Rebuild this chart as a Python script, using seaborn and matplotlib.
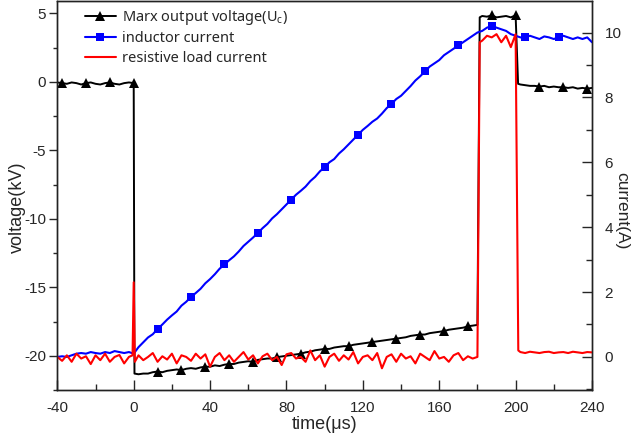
import numpy as np
import pandas as pd
import matplotlib
matplotlib.use("Agg")
import matplotlib.pyplot as plt
import seaborn as sns

# Marx output voltage (kV), left axis
black_t = np.concatenate([np.arange(-40, 0.1, 2.5), [0.4], np.arange(2.5, 180.1, 2.5),
                          [181.2], np.arange(182.5, 200.1, 2.5), [201.3], np.arange(202.5, 240.1, 2.5)])
black_pre = [-0.05, -0.1, -0.15, -0.05, -0.1, -0.2, -0.1, -0.05, -0.15, -0.2, -0.1, -0.05,
             -0.15, -0.2, -0.1, -0.05, -0.1]
black_ramp = [-21.35, -21.3, -21.3, -21.2, -21.15, -21.2, -21.1, -21.05,
              -21.0, -21.05, -20.95, -20.9, -20.95, -20.85, -20.8, -20.8,
              -20.7, -20.75, -20.65, -20.6, -20.6, -20.5, -20.45, -20.4,
              -20.45, -20.3, -20.25, -20.2, -20.2, -20.1, -20.05, -20.0,
              -19.95, -19.9, -19.85, -19.75, -19.7, -19.6, -19.55, -19.5,
              -19.5, -19.4, -19.35, -19.3, -19.3, -19.2, -19.15, -19.1,
              -19.05, -19.0, -18.95, -18.9, -18.85, -18.8, -18.75, -18.7,
              -18.65, -18.55, -18.5, -18.45, -18.45, -18.35, -18.3, -18.25,
              -18.2, -18.1, -18.05, -18.0, -17.95, -17.85, -17.8, -17.75]
black_top = [4.8, 4.75, 4.85, 4.7, 4.75, 4.8, 4.7, 4.85]
black_post = [-0.2, -0.25, -0.3, -0.3, -0.35, -0.3, -0.4, -0.35, -0.4, -0.4, -0.45, -0.4,
              -0.5, -0.45, -0.5, -0.45]
black_v = black_pre + [-21.3] + black_ramp + [4.7] + black_top + [-0.15] + black_post
black_marks = np.arange(-37.5, 240, 12.5)

# inductor current (A), right axis
blue_t = np.arange(-40, 240.1, 2.5)
blue_v = [0.0, 0.02, 0.0, 0.05, 0.1, 0.12, 0.1, 0.15, 0.12, 0.1, 0.15, 0.12, 0.18, 0.15, 0.12, 0.15,
          0.1, 0.3, 0.45, 0.6, 0.7, 0.86, 1.0, 1.15, 1.28, 1.4, 1.58, 1.7, 1.85, 1.97, 2.1, 2.27,
          2.4, 2.55, 2.72, 2.85, 2.98, 3.1, 3.25, 3.42, 3.55, 3.68, 3.82, 3.97, 4.1, 4.27, 4.4, 4.55,
          4.7, 4.85, 5.0, 5.12, 5.25, 5.42, 5.55, 5.72, 5.85, 6.0, 6.1, 6.27, 6.4, 6.55, 6.7, 6.85,
          7.0, 7.12, 7.25, 7.35, 7.5, 7.67, 7.8, 7.95, 8.05, 8.2, 8.35, 8.52, 8.65, 8.8, 8.95, 9.05,
          9.15, 9.3, 9.4, 9.5, 9.6, 9.7, 9.8, 9.9, 10.0, 10.05, 10.15, 10.2, 10.15, 10.1, 10.05, 9.95,
          9.9, 9.85, 9.85, 9.9, 9.85, 9.8, 9.88, 9.85, 9.8, 9.85, 9.9, 9.85, 9.8, 9.85, 9.8, 9.85, 9.7]
blue_marks = np.arange(12.5, 230, 17.5)

# resistive load current (A), right axis
red_t = np.concatenate([np.arange(-40, -2.4, 2.5), [-0.6, 0.0, 0.6], np.arange(2.5, 180.1, 2.5),
                        [181.2], np.arange(182.5, 200.1, 2.5), [201.4], np.arange(202.5, 240.1, 2.5)])
red_pre = [0.0, -0.12, 0.05, -0.15, 0.1, -0.05, 0.02, -0.22, 0.05, -0.1, 0.1, -0.15, 0.0, 0.06, -0.2, 0.0]
red_spike = [0.05, 2.3, -0.15]
red_noise = [0.05, -0.1, 0.0, 0.12, -0.15, 0.02, -0.08, 0.1,
             -0.2, 0.05, 0.0, -0.12, 0.1, -0.05, 0.08, -0.3,
             0.0, 0.12, -0.1, 0.05, -0.15, 0.0, 0.15, -0.08,
             0.05, -0.2, 0.02, 0.1, -0.1, 0.0, -0.25, 0.08,
             0.12, -0.05, 0.0, -0.15, 0.2, -0.1, 0.05, -0.3,
             0.0, 0.1, -0.12, 0.05, -0.08, 0.15, -0.2, 0.0,
             0.05, -0.1, 0.12, -0.35, 0.0, 0.08, -0.15, 0.1,
             -0.05, 0.02, -0.2, 0.1, 0.0, -0.1, 0.18, -0.05,
             0.0, -0.15, 0.05, 0.12, -0.1, 0.02, -0.05, 0.0]
red_top = [9.75, 9.9, 9.85, 9.95, 9.7, 9.9, 9.55, 9.95]
red_post = [0.15, 0.12, 0.16, 0.14, 0.12, 0.15, 0.16, 0.12, 0.14, 0.15, 0.12, 0.16, 0.14, 0.12, 0.15, 0.14]
red_v = red_pre + red_spike + red_noise + [9.7] + red_top + [0.2] + red_post

labels = ["Marx output voltage(U$_\\mathrm{c}$)", "inductor current", "resistive load current"]

sns.set_style("ticks")
plt.rcParams['font.family'] = ['Liberation Sans', 'DejaVu Sans']
plt.rcParams['mathtext.fontset'] = 'custom'
plt.rcParams['mathtext.rm'] = 'Noto Sans'
plt.rcParams['axes.unicode_minus'] = False

fig = plt.figure(figsize=(6.32, 4.4), dpi=100)
ax = fig.add_axes([0.0907, 0.1136, 0.846, 0.884])
ax2 = ax.twinx()

black_df = pd.DataFrame({'t': black_t, 'v': black_v})
blue_df = pd.DataFrame({'t': blue_t, 'v': blue_v})
red_df = pd.DataFrame({'t': red_t, 'v': red_v})

sns.lineplot(data=black_df, x='t', y='v', ax=ax, color='black', lw=1.4, sort=False, estimator=None,
             marker='^', markersize=6.5, markeredgewidth=0,
             markevery=list(np.searchsorted(black_t, black_marks)), label=labels[0], legend=False)
sns.lineplot(data=blue_df, x='t', y='v', ax=ax2, color='#0000ff', lw=1.5, sort=False, estimator=None,
             marker='s', markersize=6, markeredgewidth=0,
             markevery=list(np.searchsorted(blue_t, blue_marks)), label=labels[1], legend=False)
sns.lineplot(data=red_df, x='t', y='v', ax=ax2, color='#ff0000', lw=1.5, sort=False, estimator=None,
             label=labels[2], legend=False)

ax.set_xlim(-40, 240)
ax.set_ylim(-22.4, 5.89)
ax2.set_ylim(-1.02, 10.97)
ax.set_xticks(np.arange(-40, 241, 40))
ax.set_xticks(np.arange(-20, 240, 40), minor=True)
ax.set_yticks(np.arange(-20, 6, 5))
ax.set_yticks(np.arange(-22.5, 6, 2.5), minor=True)
ax2.set_yticks(np.arange(0, 11, 2))
ax2.set_yticks(np.arange(-1, 11, 1), minor=True)

ax.tick_params(axis='x', which='major', direction='in', length=7, width=1, pad=8, labelsize=11, top=False)
ax.tick_params(axis='x', which='minor', direction='in', length=4, width=1, top=False)
ax.tick_params(axis='y', which='major', direction='out', length=6, width=1, pad=2, labelsize=11)
ax.tick_params(axis='y', which='minor', direction='out', length=3, width=1)
ax2.tick_params(axis='y', which='major', direction='in', length=7, width=1, pad=9, labelsize=11)
ax2.tick_params(axis='y', which='minor', direction='in', length=4, width=1)

for a in (ax, ax2):
    for s in a.spines.values():
        s.set_visible(True)
        s.set_color('#222222')
        s.set_linewidth(1.0)

ax.set_xlabel("time(μs)", fontsize=13, va='center')
ax.set_ylabel("voltage(kV)", fontsize=13, va='center')
ax2.set_ylabel("current(A)", fontsize=12.5, rotation=270, va='center')
ax.xaxis.set_label_coords(0.5, -0.089)
ax.yaxis.set_label_coords(-0.075, 0.47)
ax2.yaxis.set_label_coords(1.055, 0.46)

h1, l1 = ax.get_legend_handles_labels()
h2, l2 = ax2.get_legend_handles_labels()
leg = ax.legend(h1 + h2, l1 + l2, loc='upper left', bbox_to_anchor=(85 / 632, 1 - 8 / 440),
                bbox_transform=fig.transFigure, frameon=False, borderpad=0, borderaxespad=0,
                handlelength=2.1, handletextpad=0.45, labelspacing=0.3,
                prop={'family': 'Noto Sans', 'size': 10.5})

fig.savefig("out.png", dpi=100)
